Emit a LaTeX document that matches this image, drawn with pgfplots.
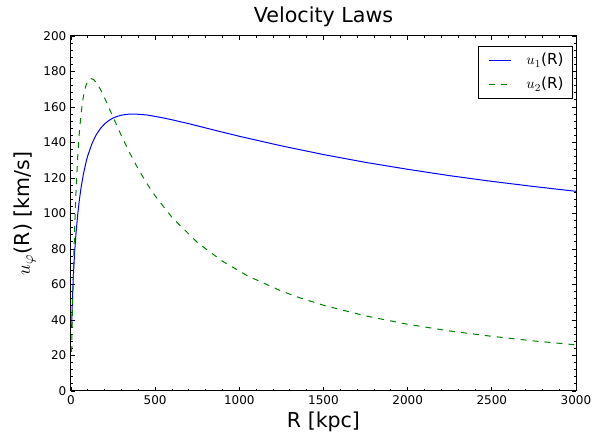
\documentclass[border=0pt]{standalone}
\usepackage{pgfplots}
\pgfplotsset{compat=1.18}
\usepackage{fontspec}
\setmainfont{DejaVu Sans}
\definecolor{mplblue}{rgb}{0,0,1}
\definecolor{mplgreen}{rgb}{0,0.5,0}
\begin{document}
\begin{tikzpicture}
\begin{axis}[
  scale only axis,
  width=378.75pt, height=266.25pt,
  xmin=0, xmax=3000, ymin=0, ymax=200,
  xtick={0,500,...,3000}, ytick={0,20,...,200},
  minor x tick num=4, minor y tick num=4,
  tick align=inside,
  major tick length=3pt, minor tick length=1.6pt,
  every tick/.style={black, line width=0.6pt},
  axis line style={line width=0.75pt},
  /pgf/number format/assume math mode=true,
  scaled x ticks=false,
  xticklabel style={font=\fontsize{9}{10}\selectfont, /pgf/number format/1000 sep={}},
  yticklabel style={font=\fontsize{9}{10}\selectfont},
  every axis title shift=0pt,
  title={Velocity Laws},
  title style={font=\fontsize{15.5}{17}\selectfont, at={(axis description cs:0.5,1.0394)}, anchor=base},
  xlabel={R [kpc]},
  xlabel style={font=\fontsize{15.4}{17}\selectfont, at={(axis description cs:0.5,-0.1042)}, anchor=base},
  ylabel={$u_\varphi$(R) [km/s]},
  ylabel style={font=\fontsize{15.4}{17}\selectfont, at={(axis description cs:-0.0812,0.5)}, anchor=base, rotate=0},
  legend style={at={(axis description cs:0.9931,0.972)}, anchor=north east,
    draw=black, line width=0.6pt, font=\fontsize{11.4}{13}\selectfont,
    inner xsep=4.4pt, inner ysep=3.3pt, row sep=3.8pt, nodes={inner sep=2pt},
    cells={anchor=west}},
  /tikz/every even column/.append style={column sep=0pt},
  legend image code/.code={\path[draw=none] (0pt,0pt) -- (29.35pt,0pt); \draw[#1] (3pt,0pt) -- (19.5pt,0pt);},
]
\addplot[mplblue, line width=0.75pt] coordinates {
(4,35.7) (6,43.4) (8,49.8) (10,55.2) (12,60.1) (15,66.4) (20,75.3) (25,82.8)
(30,89.1) (40,99.6) (50,107.9) (60,114.7) (75,122.8) (90,129.2) (100,132.7)
(125,139.5) (150,144.4) (175,147.9) (200,150.5) (225,152.4) (250,153.8)
(275,154.7) (300,155.4) (335,155.9) (370,156.0) (400,155.9) (450,155.5)
(500,154.7) (550,153.8) (600,152.8) (700,150.6) (850,147.0) (1000,143.5)
(1250,138.1) (1500,133.2) (1750,128.8) (2000,124.9) (2250,121.3) (2500,118.1)
(2750,115.2) (3000,112.5)};
\addlegendentry{$u_1$(R)\rule[-5.8pt]{0pt}{1pt}}
\addplot[mplgreen, line width=0.75pt, dash pattern=on 4.5pt off 4.5pt] coordinates {
(4,22.0) (6,31.9) (8,41.3) (10,50.0) (15,69.5) (20,86.2) (25,100.5) (30,112.6)
(40,132.0) (50,146.2) (60,156.4) (70,163.8) (80,169.0) (90,172.4) (100,174.6)
(110,175.7) (120,176.0) (135,175.4) (150,173.8) (175,169.9) (200,165.0)
(225,159.7) (250,154.3) (300,143.7) (350,133.9) (400,125.0) (450,117.0)
(500,109.9) (600,97.8) (750,83.7) (900,73.1) (1050,64.8) (1250,56.3)
(1350,52.8) (1500,48.3) (1750,42.3) (2000,37.6) (2250,33.8) (2500,30.8)
(2750,28.2) (3000,26.0)};
\addlegendentry{$u_2$(R)\rule[-5.8pt]{0pt}{1pt}}
\end{axis}
\pgfresetboundingbox
\path (current axis.south west) ++(-53.25pt,-40.5pt) coordinate (bbsw);
\path (current axis.north east) ++(12.75pt,27pt) coordinate (bbne);
\path[use as bounding box] (bbsw) rectangle (bbne);
\end{tikzpicture}
\end{document}
